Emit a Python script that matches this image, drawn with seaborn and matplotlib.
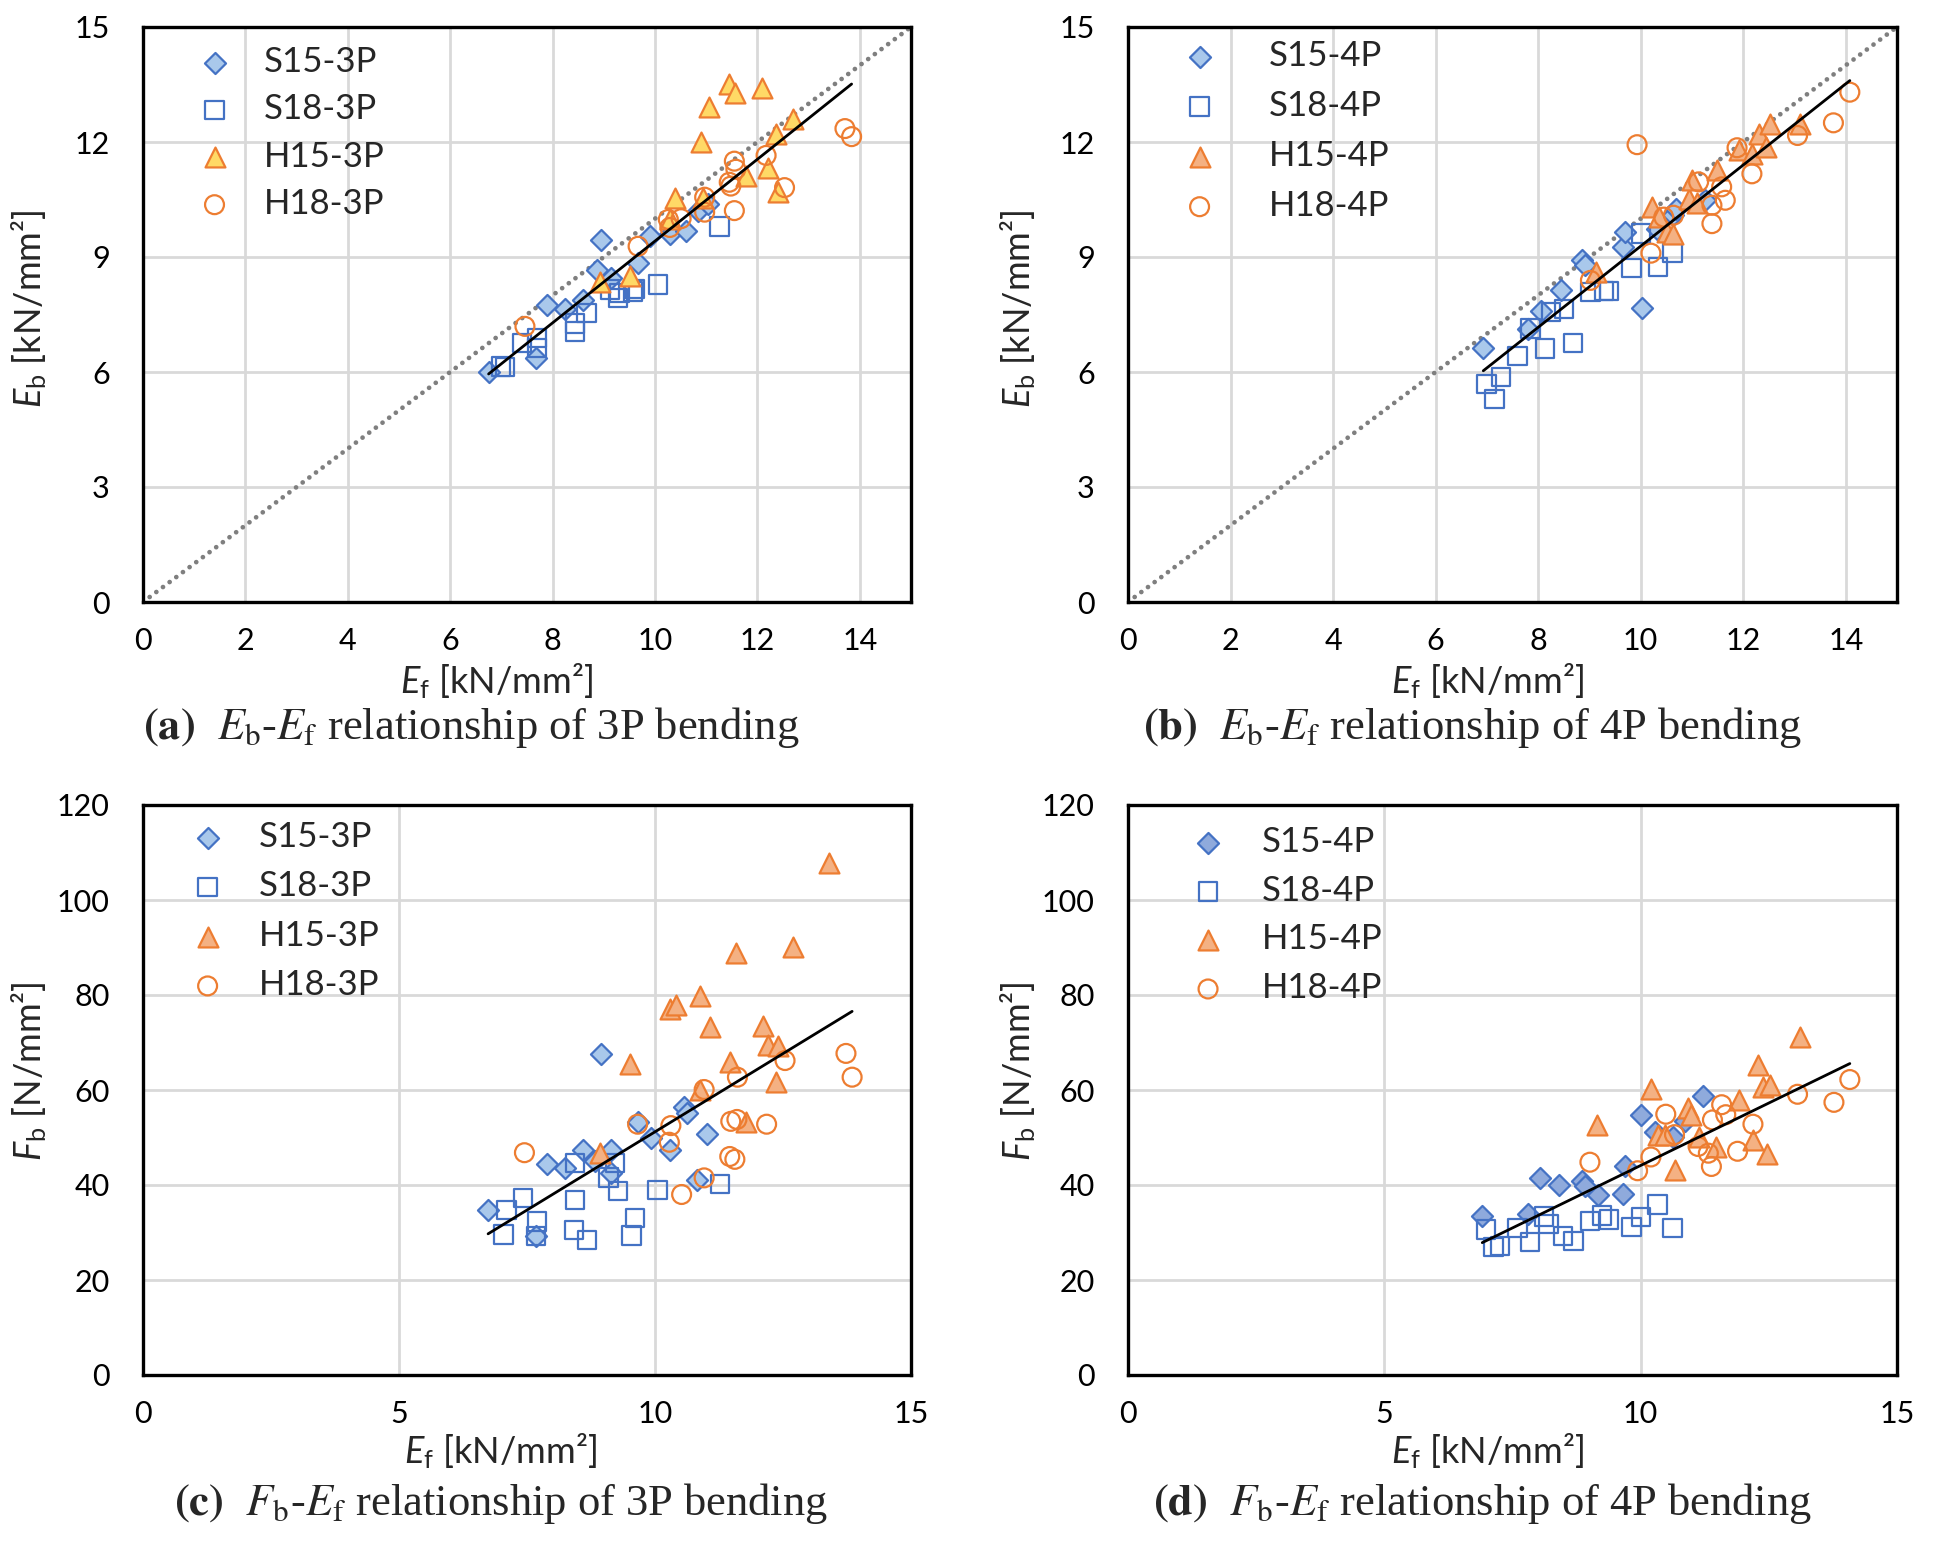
import numpy as np
import matplotlib
matplotlib.use("Agg")
import matplotlib.pyplot as plt
import seaborn as sns

# ---------------- data ----------------
# (a) Eb - Ef, 3P bending [kN/mm2]
a_s15_ef = [6.75, 7.68, 7.90, 8.24, 8.60, 8.86, 8.94, 9.15, 9.67, 9.91, 10.29, 10.61, 10.84, 11.03]
a_s15_eb = [6.00, 6.36, 7.74, 7.65, 7.89, 8.67, 9.44, 8.45, 8.85, 9.56, 9.59, 9.68, 10.19, 10.38]
a_s18_ef = [6.99, 7.07, 7.40, 7.69, 7.69, 8.44, 8.44, 8.66, 9.12, 9.28, 9.31, 9.57, 9.60, 10.06, 11.26]
a_s18_eb = [6.14, 6.13, 6.76, 6.89, 6.63, 7.06, 7.27, 7.54, 8.15, 7.93, 8.06, 8.10, 8.16, 8.28, 9.80]
a_h15_ef = [8.92, 9.51, 10.29, 10.40, 10.89, 10.94, 11.06, 11.45, 11.57, 11.78, 12.09, 12.20, 12.36, 12.40, 12.69]
a_h15_eb = [8.34, 8.50, 10.00, 10.54, 12.01, 10.54, 12.90, 13.51, 13.29, 11.11, 13.42, 11.33, 12.20, 10.70, 12.61]
a_h18_ef = [7.46, 9.67, 10.26, 10.29, 10.51, 10.97, 10.97, 11.45, 11.48, 11.55, 11.55, 11.58, 12.17, 12.53, 13.71, 13.84]
a_h18_eb = [7.19, 9.28, 9.98, 9.77, 10.00, 10.56, 10.17, 10.95, 10.85, 11.50, 10.21, 11.29, 11.65, 10.81, 12.35, 12.14]

# (b) Eb - Ef, 4P bending [kN/mm2]
b_s15_ef = [6.93, 7.81, 8.05, 8.44, 8.86, 8.92, 9.65, 9.70, 10.03, 10.32, 10.64, 10.68, 11.26]
b_s15_eb = [6.63, 7.13, 7.58, 8.13, 8.91, 8.78, 9.26, 9.65, 7.67, 9.74, 10.10, 10.26, 10.48]
b_s18_ef = [6.99, 7.15, 7.28, 7.60, 7.85, 8.13, 8.25, 8.50, 8.68, 9.02, 9.28, 9.38, 9.82, 10.01, 10.34, 10.62]
b_s18_eb = [5.68, 5.30, 5.87, 6.42, 7.13, 6.61, 7.57, 7.65, 6.76, 8.09, 8.11, 8.11, 8.72, 9.61, 8.74, 9.10]
b_h15_ef = [9.12, 10.22, 10.35, 10.51, 10.64, 10.94, 11.00, 11.10, 11.49, 11.91, 12.17, 12.30, 12.44, 12.53, 13.11]
b_h15_eb = [8.61, 10.30, 10.04, 9.65, 9.60, 10.52, 11.00, 10.40, 11.26, 11.78, 11.70, 12.22, 11.87, 12.48, 12.48]
b_h18_ef = [9.02, 9.93, 10.20, 10.45, 10.64, 11.13, 11.39, 11.39, 11.58, 11.65, 11.88, 12.17, 13.06, 13.76, 14.08]
b_h18_eb = [8.39, 11.93, 9.10, 10.04, 10.09, 10.96, 10.35, 9.87, 10.83, 10.48, 11.85, 11.17, 12.17, 12.50, 13.30]

# (c) Fb - Ef, 3P bending [N/mm2]
c_s15_ef = [6.74, 7.68, 7.90, 8.24, 8.59, 8.83, 8.95, 9.14, 9.15, 9.66, 9.92, 10.29, 10.57, 10.62, 10.83, 11.02]
c_s15_fb = [34.8, 29.3, 44.4, 43.6, 47.4, 45.0, 67.5, 47.4, 42.5, 53.3, 49.8, 47.4, 56.4, 55.1, 41.1, 50.7]
c_s18_ef = [7.04, 7.10, 7.42, 7.68, 7.69, 8.42, 8.44, 8.44, 8.67, 9.09, 9.22, 9.28, 9.54, 9.61, 10.05, 11.27]
c_s18_fb = [29.6, 34.8, 37.3, 29.3, 32.3, 30.5, 36.9, 44.6, 28.4, 41.6, 44.6, 38.7, 29.4, 33.1, 39.0, 40.2]
c_h15_ef = [8.93, 9.52, 10.29, 10.41, 10.88, 10.88, 11.07, 11.46, 11.58, 11.78, 12.10, 12.21, 12.36, 12.41, 12.70, 13.39]
c_h15_fb = [46.7, 65.5, 77.0, 77.8, 79.8, 59.9, 73.2, 65.9, 88.9, 53.3, 73.4, 69.5, 61.7, 69.2, 90.1, 107.8]
c_h18_ef = [7.45, 9.66, 10.28, 10.31, 10.52, 10.96, 10.96, 11.46, 11.48, 11.56, 11.60, 11.61, 12.18, 12.54, 13.73, 13.85]
c_h18_fb = [46.8, 52.8, 49.0, 52.5, 38.0, 60.1, 41.5, 46.0, 53.4, 45.4, 53.8, 62.7, 52.8, 66.2, 67.7, 62.7]

# (d) Fb - Ef, 4P bending [N/mm2]
d_s15_ef = [6.91, 7.80, 8.04, 8.41, 8.85, 8.92, 9.16, 9.65, 9.69, 10.01, 10.28, 10.64, 10.86, 11.22]
d_s15_fb = [33.4, 33.8, 41.5, 39.9, 40.8, 39.7, 38.0, 38.2, 44.1, 54.8, 51.1, 50.2, 53.4, 58.8]
d_s18_ef = [6.98, 7.13, 7.26, 7.60, 7.84, 8.12, 8.20, 8.49, 8.69, 9.01, 9.25, 9.38, 9.82, 10.01, 10.33, 10.62]
d_s18_fb = [30.6, 26.9, 27.1, 31.0, 28.0, 33.4, 31.8, 29.2, 28.2, 32.4, 33.6, 32.7, 31.1, 33.2, 35.9, 31.0]
d_h15_ef = [9.14, 10.21, 10.34, 10.47, 10.66, 10.93, 10.99, 11.14, 11.47, 11.92, 12.19, 12.28, 12.39, 12.46, 12.52, 13.11]
d_h15_fb = [52.7, 60.3, 50.6, 50.6, 43.2, 56.3, 54.8, 50.2, 48.1, 57.9, 49.5, 65.2, 60.7, 46.5, 61.0, 71.2]
d_h18_ef = [9.01, 9.94, 10.20, 10.49, 10.66, 11.12, 11.32, 11.38, 11.40, 11.58, 11.66, 11.89, 12.19, 13.06, 13.77, 14.08]
d_h18_fb = [44.8, 43.0, 45.9, 54.9, 50.6, 48.1, 46.7, 43.9, 53.7, 56.9, 54.8, 47.1, 52.8, 59.1, 57.4, 62.2]

one_to_one = [0, 15]

# ---------------- style ----------------
sns.set_style("white")
plt.rcParams["font.family"] = ["Lato", "DejaVu Sans"]
plt.rcParams["mathtext.fontset"] = "custom"
plt.rcParams["mathtext.rm"] = "Lato"
plt.rcParams["mathtext.it"] = "Lato:italic"
plt.rcParams["mathtext.bf"] = "Lato:bold"

BLUE = "#4472C4"
ORANGE = "#ED7D31"
GRID = "#D9D9D9"


def scatter(ax, x, y, label, marker, size, face, edge):
    sns.scatterplot(x=x, y=y, ax=ax, marker=marker, s=size, facecolor=face,
                    edgecolor=edge, linewidth=1.6, label=label, zorder=3)


def trend(ax, xs, ys):
    x = np.concatenate([np.asarray(v) for v in xs])
    y = np.concatenate([np.asarray(v) for v in ys])
    k, b = np.polyfit(x, y, 1)
    xx = np.array([x.min(), x.max()])
    sns.lineplot(x=xx, y=k * xx + b, ax=ax, color="black", linewidth=2, zorder=4)


def style_axes(ax, xticks, yticks, ylim, xlabel, ylabel, xl_pos, yl_pos):
    ax.set_xlim(0, 15)
    ax.set_ylim(*ylim)
    ax.set_xticks(xticks)
    ax.set_yticks(yticks)
    ax.grid(True, color=GRID, linewidth=2, zorder=0)
    ax.set_axisbelow(True)
    for sp in ax.spines.values():
        sp.set_visible(True)
        sp.set_color("black")
        sp.set_linewidth(2.4)
    ax.tick_params(axis="both", direction="in", length=6, width=2.2, labelsize=22,
                   colors="black")
    ax.tick_params(axis="y", pad=24)
    ax.tick_params(axis="x", pad=18)
    ax.set_xlabel(xlabel, fontsize=26)
    ax.set_ylabel(ylabel, fontsize=26)
    ax.xaxis.set_label_coords(*xl_pos)
    ax.yaxis.set_label_coords(*yl_pos)
    ax.xaxis.label.set_va("center")
    ax.yaxis.label.set_va("center")


def legend(ax, anchor, textpad, spacing):
    ax.legend(loc="upper left", bbox_to_anchor=anchor, frameon=False, fontsize=25,
              handlelength=1.2, handletextpad=textpad, labelspacing=spacing,
              borderpad=0, borderaxespad=0, scatterpoints=1)


W, H = 1948, 1545
fig = plt.figure(figsize=(W / 100, H / 100), dpi=100)
ax_a = fig.add_axes([143 / W, 1 - 602 / H, 768 / W, 575 / H])
ax_b = fig.add_axes([1128 / W, 1 - 602 / H, 769 / W, 575 / H])
ax_c = fig.add_axes([143 / W, 1 - 1375 / H, 768 / W, 570 / H])
ax_d = fig.add_axes([1128 / W, 1 - 1375 / H, 769 / W, 570 / H])

ef_label = r"$E_{\mathrm{f}}$ [kN/mm²]"

panels = [
    (ax_a, "3P", "#A9C8EB", "#FFD966",
     [a_s15_ef, a_s18_ef, a_h15_ef, a_h18_ef], [a_s15_eb, a_s18_eb, a_h15_eb, a_h18_eb]),
    (ax_b, "4P", "#A9C8EB", "#F4B183",
     [b_s15_ef, b_s18_ef, b_h15_ef, b_h18_ef], [b_s15_eb, b_s18_eb, b_h15_eb, b_h18_eb]),
    (ax_c, "3P", "#A9C8EB", "#F4B183",
     [c_s15_ef, c_s18_ef, c_h15_ef, c_h18_ef], [c_s15_fb, c_s18_fb, c_h15_fb, c_h18_fb]),
    (ax_d, "4P", "#8FAADC", "#F4B183",
     [d_s15_ef, d_s18_ef, d_h15_ef, d_h18_ef], [d_s15_fb, d_s18_fb, d_h15_fb, d_h18_fb]),
]

for i, (ax, kind, dia_fill, tri_fill, xs, ys) in enumerate(panels):
    if i < 2:
        sns.lineplot(x=one_to_one, y=one_to_one, ax=ax, color="#7F7F7F", linewidth=3.4,
                     linestyle=(0, (0.01, 1.75)), dash_capstyle="round", zorder=2)
    scatter(ax, xs[0], ys[0], f"S15-{kind}", "D", 115, dia_fill, BLUE)
    scatter(ax, xs[1], ys[1], f"S18-{kind}", "s", 175, "none", BLUE)
    scatter(ax, xs[2], ys[2], f"H15-{kind}", "^", 205, tri_fill, ORANGE)
    scatter(ax, xs[3], ys[3], f"H18-{kind}", "o", 185, "none", ORANGE)
    trend(ax, xs, ys)

style_axes(ax_a, np.arange(0, 15, 2), np.arange(0, 16, 3), (0, 15), ef_label,
           r"$E_{\mathrm{b}}$ [kN/mm²]", (0.46, -0.137), (-0.148, 0.51))
style_axes(ax_b, np.arange(0, 15, 2), np.arange(0, 16, 3), (0, 15), ef_label,
           r"$E_{\mathrm{b}}$ [kN/mm²]", (0.468, -0.137), (-0.143, 0.51))
style_axes(ax_c, [0, 5, 10, 15], np.arange(0, 121, 20), (0, 120), ef_label,
           r"$F_{\mathrm{b}}$ [N/mm²]", (0.465, -0.133), (-0.148, 0.533))
style_axes(ax_d, [0, 5, 10, 15], np.arange(0, 121, 20), (0, 120), ef_label,
           r"$F_{\mathrm{b}}$ [N/mm²]", (0.468, -0.133), (-0.143, 0.533))

legend(ax_a, (0.066, 0.967), 0.83, 0.44)
legend(ax_b, (0.066, 0.978), 1.4, 0.52)
legend(ax_c, (0.057, 0.972), 0.88, 0.5)
legend(ax_d, (0.077, 0.963), 0.95, 0.48)

captions = [
    (143, 727, r"$\mathbf{(a)}$  $E_{\mathrm{b}}$-$E_{\mathrm{f}}$ relationship of 3P bending"),
    (1143, 727, r"$\mathbf{(b)}$  $E_{\mathrm{b}}$-$E_{\mathrm{f}}$ relationship of 4P bending"),
    (174, 1504, r"$\mathbf{(c)}$  $F_{\mathrm{b}}$-$E_{\mathrm{f}}$ relationship of 3P bending"),
    (1153, 1504, r"$\mathbf{(d)}$  $F_{\mathrm{b}}$-$E_{\mathrm{f}}$ relationship of 4P bending"),
]
for cx, cy, txt in captions:
    fig.text(cx / W, 1 - cy / H, txt, ha="left", va="center", fontsize=32,
             family="Liberation Serif", math_fontfamily="stix")

fig.savefig("out.png", dpi=100, facecolor="white")
plt.close(fig)
